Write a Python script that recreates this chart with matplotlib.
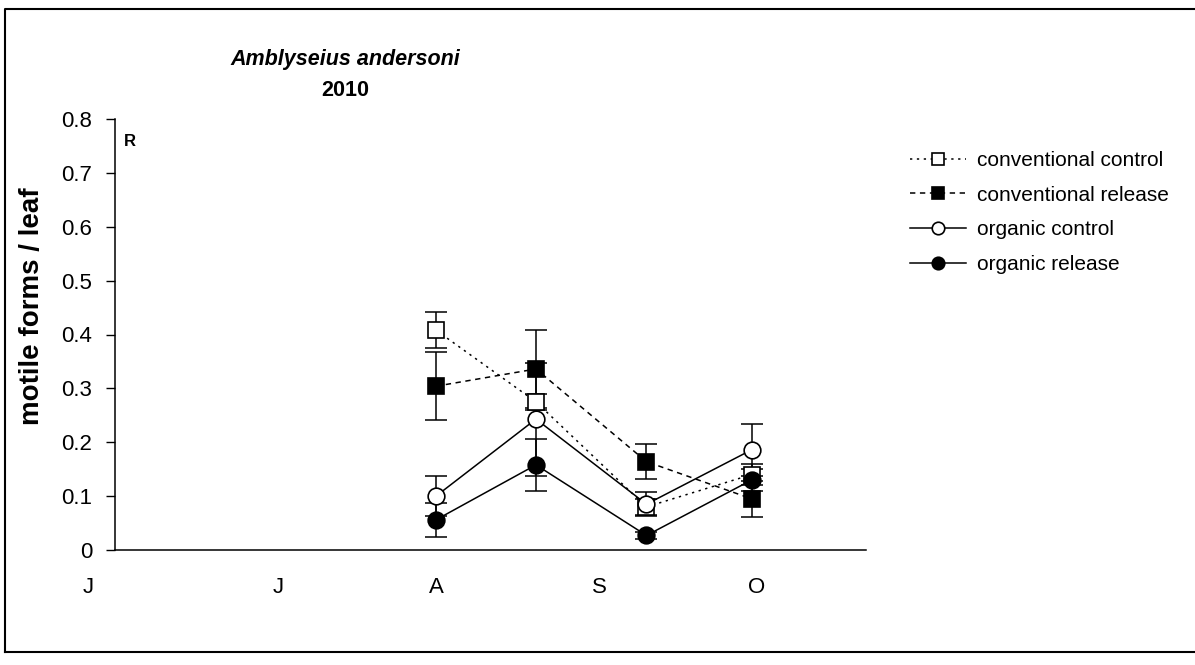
import numpy as np
import matplotlib.pyplot as plt
from matplotlib.lines import Line2D

plt.rcParams['font.family'] = ['Liberation Sans', 'DejaVu Sans']

# sampling dates, days after 1 June 2010
days = [61, 80, 101, 121]
months = ['J', 'J', 'A', 'S', 'O']
month_pos = [-5, 31, 61, 92, 122]

conv_control = [0.408, 0.275, 0.080, 0.140]
conv_control_se = [0.033, 0.015, 0.015, 0.020]
conv_release = [0.304, 0.336, 0.164, 0.095]
conv_release_se = [0.063, 0.072, 0.033, 0.033]
org_control = [0.100, 0.243, 0.085, 0.186]
org_control_se = [0.037, 0.105, 0.022, 0.048]
org_release = [0.056, 0.158, 0.027, 0.130]
org_release_se = [0.031, 0.048, 0.006, 0.020]

W, H = 1195, 665
fig = plt.figure(figsize=(W / 100, H / 100), dpi=100)
ax = fig.add_axes([115 / W, 1 - 550 / H, (866 - 115) / W, (550 - 119) / H])

series = [
    ('conventional control', conv_control, conv_control_se, 's', 'white', (0, (1.5, 3))),
    ('conventional release', conv_release, conv_release_se, 's', 'black', (0, (3.5, 3))),
    ('organic control', org_control, org_control_se, 'o', 'white', '-'),
    ('organic release', org_release, org_release_se, 'o', 'black', '-'),
]

handles = []
for label, vals, se, mk, fc, ls in series:
    ax.errorbar(days, vals, yerr=se, fmt='none', ecolor='black', elinewidth=1.1,
                capsize=8, capthick=1.1, zorder=2)
    ax.plot(days, vals, color='black', lw=1.1, ls=ls, marker=mk, mfc=fc, mec='black',
            mew=1.2, ms=12, zorder=3)
    handles.append(Line2D([], [], color='black', lw=1.1, ls=ls, marker=mk, mfc=fc,
                          mec='black', mew=1.2, ms=9))

ax.set_xlim(0, (866 - 115) / 5.262)
ax.set_ylim(0, 0.8)
ax.set_yticks(np.arange(0, 0.81, 0.1))
ax.set_yticklabels(['0'] + ['%.1f' % v for v in np.arange(0.1, 0.81, 0.1)])
ax.set_xticks([])
ax.tick_params(axis='y', direction='out', length=6.5, width=1, pad=10, labelsize=16)
for s in ['top', 'right']:
    ax.spines[s].set_visible(False)
for s in ['left', 'bottom']:
    ax.spines[s].set_linewidth(1.1)

for pos, m in zip(month_pos, months):
    ax.text(pos, -0.069, m, ha='center', va='center', fontsize=16)

ax.text(0.02, 0.947, 'R', transform=ax.transAxes, ha='center', va='center',
        fontsize=12, fontweight='bold')

fig.text(32 / W, 1 - 306 / H, 'motile forms / leaf', rotation=90, ha='center',
         va='center', fontsize=20, fontweight='bold')
fig.text(345 / W, 1 - 60 / H, 'Amblyseius andersoni', ha='center', va='center',
         fontsize=15.5, fontweight='bold', style='italic')
fig.text(345 / W, 1 - 90 / H, '2010', ha='center', va='center',
         fontsize=15.5, fontweight='bold')

fig.legend(handles, [s[0] for s in series], loc='upper left',
           bbox_to_anchor=(910 / W, 1 - 151 / H), frameon=False, borderpad=0,
           borderaxespad=0, handlelength=2.7, handletextpad=0.5, labelspacing=0.75,
           fontsize=15)

# outer frame
bx = [5 / W, 5 / W, 1.0]
by = [1 - 652 / H, 1 - 9 / H, 1 - 9 / H]
fig.add_artist(Line2D(bx, by, color='black', lw=1.5, transform=fig.transFigure))
fig.add_artist(Line2D([5 / W, 1.0], [1 - 652 / H, 1 - 652 / H], color='black', lw=1.5,
                      transform=fig.transFigure))

fig.savefig('out.png', dpi=100)
